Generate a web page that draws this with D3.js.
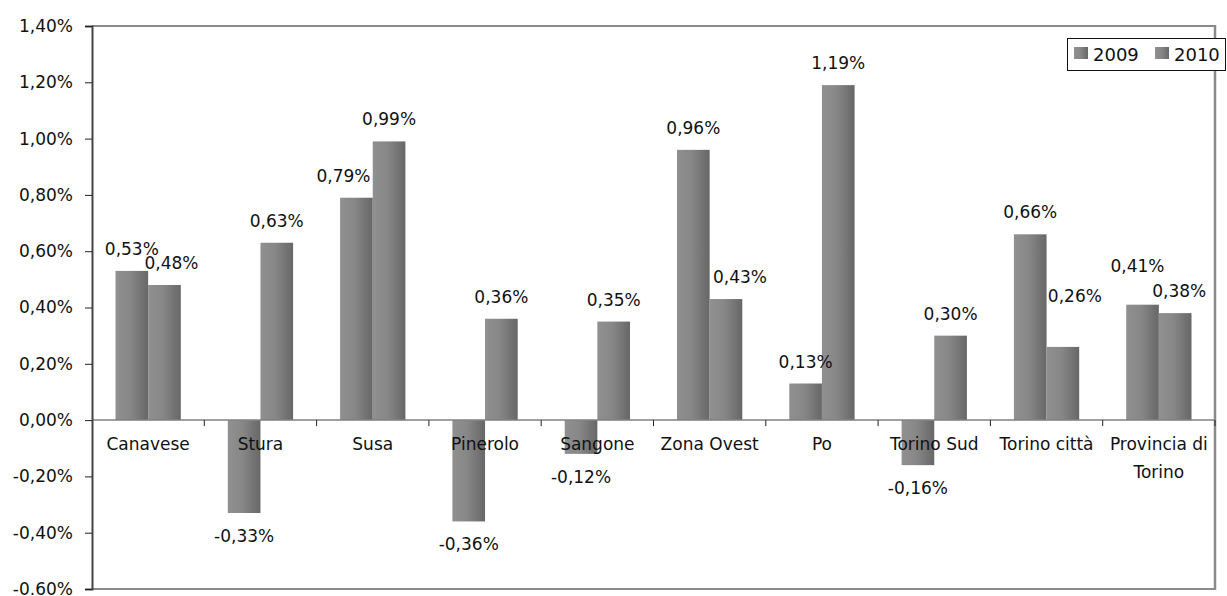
<!DOCTYPE html>
<html><head><meta charset="utf-8">
<script src="https://cdn.jsdelivr.net/npm/d3@7"></script>
<style>
html,body{margin:0;padding:0;background:#fff;}
svg{display:block;font-family:"DejaVu Sans",sans-serif;}
</style></head>
<body>
<svg id="chart" width="1227" height="596"></svg>
<script>
const categories = ["Canavese","Stura","Susa","Pinerolo","Sangone","Zona Ovest","Po","Torino Sud","Torino città","Provincia di Torino"];
const seriesNames = ["2009","2010"];
const values2009 = [0.53,-0.33,0.79,-0.36,-0.12,0.96,0.13,-0.16,0.66,0.41];
const values2010 = [0.48,0.63,0.99,0.36,0.35,0.43,1.19,0.30,0.26,0.38];
const yTicks = [-0.6,-0.4,-0.2,0,0.2,0.4,0.6,0.8,1.0,1.2,1.4];

// label nudges (layout tweak, px) keyed "category|series": [dx, dy]
const labelNudge = {
  "Canavese|2010":[7,0], "Susa|2009":[-13,0], "Zona Ovest|2010":[14,0],
  "Torino città|2010":[12,-29], "Provincia di Torino|2009":[-5,-17], "Provincia di Torino|2010":[4,0]
};

const svg = d3.select("#chart");
const L=92, R=1215, T=26, B=589;
const x = d3.scaleBand().domain(categories).range([L,R]).paddingInner(0).paddingOuter(0);
const x1 = d3.scaleBand().domain(seriesNames).range([0,x.bandwidth()]).paddingInner(0).paddingOuter(0.72);
const y = d3.scaleLinear().domain([-0.6,1.4]).range([B,T]);

const defs = svg.append("defs");
const g = defs.append("linearGradient").attr("id","barGrad").attr("x1","0").attr("x2","1").attr("y1","0").attr("y2","0");
g.append("stop").attr("offset","0%").attr("stop-color","#909090");
g.append("stop").attr("offset","45%").attr("stop-color","#878787");
g.append("stop").attr("offset","100%").attr("stop-color","#676767");

const fmt = v => (v<0?"-":"") + Math.abs(v).toFixed(2).replace(".",",") + "%";
const data = [];
categories.forEach((c,i)=>{
  data.push({c, s:"2009", v:values2009[i]});
  data.push({c, s:"2010", v:values2010[i]});
});

// frame: top, right, bottom borders
svg.append("line").attr("x1",L).attr("x2",R).attr("y1",T).attr("y2",T).attr("stroke","#8a8a8a").attr("stroke-width",2);
svg.append("line").attr("x1",R).attr("x2",R).attr("y1",T-1).attr("y2",B+1).attr("stroke","#8a8a8a").attr("stroke-width",2.5);
svg.append("line").attr("x1",L).attr("x2",R).attr("y1",B).attr("y2",B).attr("stroke","#8a8a8a").attr("stroke-width",2);

// bars
svg.append("g").selectAll("rect").data(data).join("rect")
  .attr("x",d=>x(d.c)+x1(d.s))
  .attr("width",x1.bandwidth())
  .attr("y",d=>y(Math.max(0,d.v)))
  .attr("height",d=>Math.abs(y(d.v)-y(0)))
  .attr("fill","url(#barGrad)");

// zero line
svg.append("line").attr("x1",L).attr("x2",R).attr("y1",y(0)).attr("y2",y(0)).attr("stroke","#808080").attr("stroke-width",1.5);
// category ticks
svg.append("g").selectAll("line").data(categories).join("line")
  .attr("x1",(d,i)=>L+(i+1)*x.step()).attr("x2",(d,i)=>L+(i+1)*x.step())
  .attr("y1",y(0)).attr("y2",y(0)+6).attr("stroke","#222").attr("stroke-width",1);

// y axis
const yAxis = d3.axisLeft(y).tickValues(yTicks).tickSize(7).tickPadding(12)
  .tickFormat(v => v===-0.6 ? "-0.60%" : fmt(v));
const ya = svg.append("g").attr("transform",`translate(${L},0)`).call(yAxis);
ya.select(".domain").attr("stroke","#444").attr("stroke-width",2);
ya.selectAll(".tick line").attr("stroke","#222");
ya.selectAll(".tick text").attr("font-size",17).attr("fill","#111").attr("font-family","DejaVu Sans");

// category labels
const cl = svg.append("g").selectAll("text").data(categories).join("text")
  .attr("x",d=>x(d)+x.bandwidth()/2)
  .attr("y",y(0)+30)
  .attr("text-anchor","middle").attr("font-size",17).attr("fill","#111");
cl.each(function(d){
  const t = d3.select(this);
  if (d==="Provincia di Torino"){
    t.append("tspan").attr("x",x(d)+x.bandwidth()/2).attr("dy",0).text("Provincia di");
    t.append("tspan").attr("x",x(d)+x.bandwidth()/2).attr("dy",28).text("Torino");
  } else t.text(d);
});

// data labels
const nud = d => labelNudge[d.c+"|"+d.s] || [0,0];
svg.append("g").selectAll("text").data(data).join("text")
  .attr("x",d=>x(d.c)+x1(d.s)+x1.bandwidth()/2+nud(d)[0])
  .attr("y",d=> (d.v>=0 ? y(d.v)-22 : y(d.v)+23) + nud(d)[1])
  .attr("dominant-baseline","central")
  .attr("text-anchor","middle").attr("font-size",17).attr("fill","#111")
  .text(d=>fmt(d.v));

// legend
const lg = svg.append("g");
lg.append("rect").attr("x",1067.5).attr("y",38.5).attr("width",158).attr("height",32).attr("fill","#fff").attr("stroke","#111").attr("stroke-width",1);
const lx = [1074,1155];
seriesNames.forEach((s,i)=>{
  lg.append("rect").attr("x",lx[i]).attr("y",47).attr("width",14).attr("height",12).attr("fill","url(#barGrad)");
  lg.append("text").attr("x",lx[i]+19).attr("y",54).attr("dominant-baseline","central").attr("font-size",18).attr("fill","#111").text(s);
});
</script>
</body></html>
